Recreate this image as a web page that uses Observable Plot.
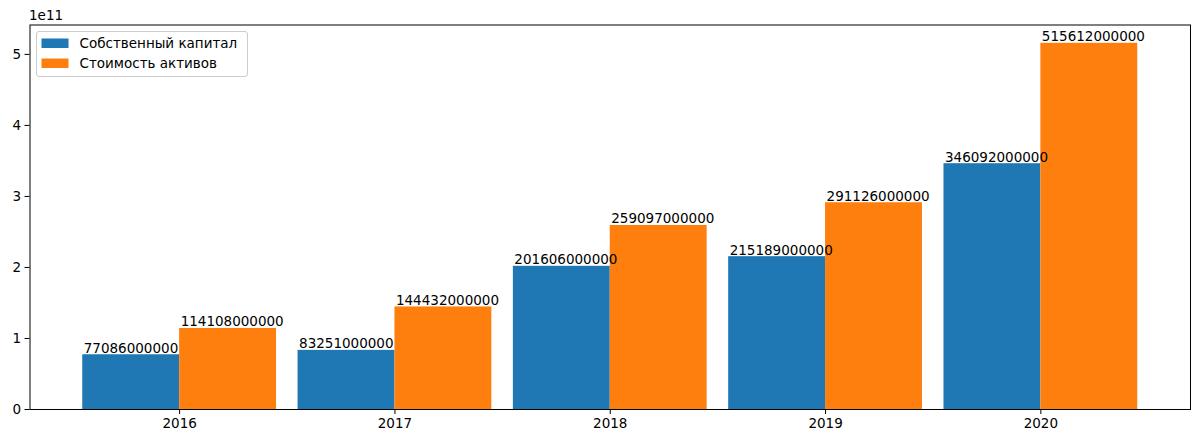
<!DOCTYPE html>
<html><head><meta charset="utf-8">
<script src="https://cdn.jsdelivr.net/npm/d3@7"></script>
<script src="https://cdn.jsdelivr.net/npm/@observablehq/plot@0.6"></script>
<style>
body{margin:0;background:#fff;}
svg{font-family:"DejaVu Sans",sans-serif;}
</style></head>
<body><div id="chart"></div>
<script>
const years = ["2016","2017","2018","2019","2020"];
const equity = [77086000000, 83251000000, 201606000000, 215189000000, 346092000000];
const assets = [114108000000, 144432000000, 259097000000, 291126000000, 515612000000];
const seriesNames = ["Собственный капитал", "Стоимость активов"];
const colors = ["#1f77b4", "#ff7f0e"];
const yTicks = [0, 1e11, 2e11, 3e11, 4e11, 5e11];

const W = 0.45;
const rows = [];
years.forEach((y, i) => {
  rows.push({i, year: y, s: 0, v: equity[i]});
  rows.push({i, year: y, s: 1, v: assets[i]});
});
const maxV = d3.max(rows, d => d.v);
const nCat = years.length;
const pad = (nCat - 1 + 2 * W) * 0.05;

const plot = Plot.plot({
  width: 1200, height: 443,
  marginLeft: 29.5, marginRight: 10, marginTop: 24.5, marginBottom: 34,
  style: {fontFamily: "DejaVu Sans, sans-serif", fontSize: "13.5px", background: "#fff", overflow: "visible"},
  x: {type: "linear", domain: [-W - pad, nCat - 1 + W + pad], ticks: years.map((_, i) => i), tickFormat: i => years[i], tickSize: 5, tickPadding: 4, label: null},
  y: {domain: [0, maxV * 1.05], ticks: yTicks, tickFormat: d => String(Math.round(d / 1e11)), tickSize: 5, tickPadding: 4, label: null},
  marks: [
    Plot.rectY(rows, {x1: d => d.i - W + d.s * W, x2: d => d.i + d.s * W, y1: 0, y2: "v", fill: d => colors[d.s]}),
    Plot.text(rows, {x: d => d.i - W + d.s * W, y: "v", text: d => String(d.v), textAnchor: "start", lineAnchor: "bottom", dy: -2, dx: 1, fill: "black", fontSize: 13.5}),
    Plot.frame({stroke: "black", strokeWidth: 1}),
    Plot.axisX({ticks: years.map((_, i) => i), tickFormat: i => years[i], tickSize: 5, tickPadding: 4, stroke: "black", fill: "black"}),
    Plot.axisY({ticks: yTicks, tickFormat: d => String(Math.round(d / 1e11)), tickSize: 5, tickPadding: 4, stroke: "black", fill: "black"})
  ]
});
document.getElementById("chart").appendChild(plot);

// offset label and legend
const svg = d3.select(plot);
svg.append("text").attr("x", 29).attr("y", 20).attr("text-anchor", "start").attr("font-size", "13.5px").attr("fill", "black").text("1e11");
const lg = svg.append("g").attr("transform", "translate(36.5,31.5)").attr("text-anchor", "start");
lg.append("rect").attr("width", 211).attr("height", 45).attr("rx", 2.5).attr("fill", "white").attr("fill-opacity", 0.8).attr("stroke", "#cccccc");
seriesNames.forEach((n, k) => {
  lg.append("rect").attr("x", 5).attr("y", 7 + k * 20).attr("width", 27).attr("height", 9.5).attr("fill", colors[k]);
  lg.append("text").attr("x", 43).attr("y", 12 + k * 20).attr("dy", "0.35em").attr("text-anchor", "start").attr("font-size", "13.5px").attr("fill", "black").text(n);
});
</script></body></html>
